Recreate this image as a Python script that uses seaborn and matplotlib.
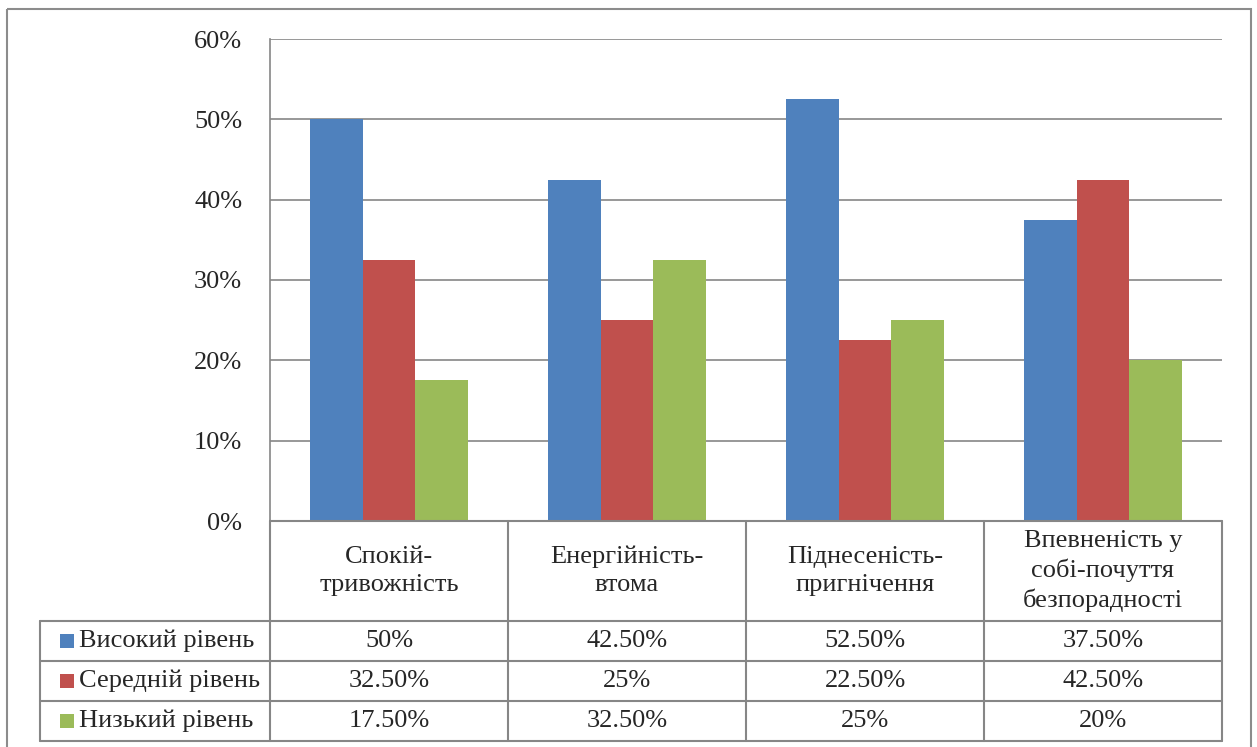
import numpy as np
import pandas as pd
import matplotlib
matplotlib.use("Agg")
import matplotlib.pyplot as plt
import seaborn as sns
from matplotlib.patches import Rectangle
from matplotlib.ticker import PercentFormatter

# Дані діаграми
categories = ["Спокій-\nтривожність", "Енергійність-\nвтома",
              "Піднесеність-\nпригнічення", "Впевненість у\nсобі-почуття\nбезпорадності"]
levels = ["Високий рівень", "Середній рівень", "Низький рівень"]
high = [50, 42.5, 52.5, 37.5]
mid = [32.5, 25, 22.5, 42.5]
low = [17.5, 32.5, 25, 20]
colors = ["#4F81BD", "#C0504D", "#9BBB59"]

series = [high, mid, low]
df = pd.DataFrame({
    "cat": [c for _ in levels for c in range(len(categories))],
    "level": np.repeat(levels, len(categories)),
    "value": high + mid + low,
})

sns.set_style("white")
plt.rcParams["font.family"] = ["Liberation Serif", "DejaVu Serif"]
FS = 19
GRID = "#868686"

W, H = 1257, 747
fig = plt.figure(figsize=(W / 100, H / 100), dpi=100)

def px(x0, y0, x1, y1):
    return [x0 / W, 1 - y1 / H, (x1 - x0) / W, (y1 - y0) / H]

# рамка діаграми
frame = fig.add_axes([0, 0, 1, 1])
frame.set_xlim(0, W)
frame.set_ylim(H, 0)
frame.axis("off")
frame.add_patch(Rectangle((7, 9), 1244, 760, fill=False, edgecolor="#8C8C8C", lw=1.5))

ax = fig.add_axes(px(270, 39, 1222, 521))
sns.barplot(data=df, x="cat", y="value", hue="level", hue_order=levels,
            palette=colors, width=0.667, saturation=1, legend=False,
            edgecolor="none", ax=ax)
ax.set_xlim(-0.5, len(categories) - 0.5)
ax.set_ylim(0, 60)
ax.set_yticks(np.arange(0, 61, 10))
ax.yaxis.set_major_formatter(PercentFormatter(decimals=0))
ax.tick_params(axis="y", length=0, pad=20, labelsize=FS)
ax.set_xticks([])
ax.set_xlabel("")
ax.set_ylabel("")
ax.grid(axis="y", color=GRID, lw=1.2)
ax.set_axisbelow(True)
for s in ["top", "right", "bottom"]:
    ax.spines[s].set_visible(False)
ax.spines["left"].set_color(GRID)
ax.spines["left"].set_linewidth(1.2)

# таблиця даних
left_w = 230 / 238
tab = fig.add_axes(px(40, 521, 1222, 741))
tab.set_xlim(-0.5 - left_w, len(categories) - 0.5)
tab.set_ylim(0, 5.5)
tab.axis("off")
lc = dict(color=GRID, lw=1.5, clip_on=False)
x_left = -0.5 - left_w
x_right = len(categories) - 0.5
for yy in [0, 1, 2, 3]:
    tab.plot([x_left, x_right], [yy, yy], **lc)
tab.plot([-0.5, x_right], [5.5, 5.5], **lc)
tab.plot([x_left, x_left], [0, 3], **lc)
for i in range(len(categories) + 1):
    tab.plot([i - 0.5, i - 0.5], [0, 5.5], **lc)

for i, c in enumerate(categories):
    tab.text(i, 4.25, c, ha="center", va="center", fontsize=FS, linespacing=1.37)

def fmt(v):
    return f"{v:.0f}%" if float(v).is_integer() else f"{v:.2f}%"

for r, (lab, vals, col) in enumerate(zip(levels, series, colors)):
    yy = 2.5 - r
    tab.add_patch(Rectangle((x_left + 0.085, yy - 0.17), 0.056, 0.34,
                            facecolor=col, edgecolor="none", clip_on=False))
    tab.text(x_left + 0.165, yy, lab, ha="left", va="center", fontsize=FS)
    for i, v in enumerate(vals):
        tab.text(i, yy, fmt(v), ha="center", va="center", fontsize=FS)

fig.savefig("out.png", dpi=100)
